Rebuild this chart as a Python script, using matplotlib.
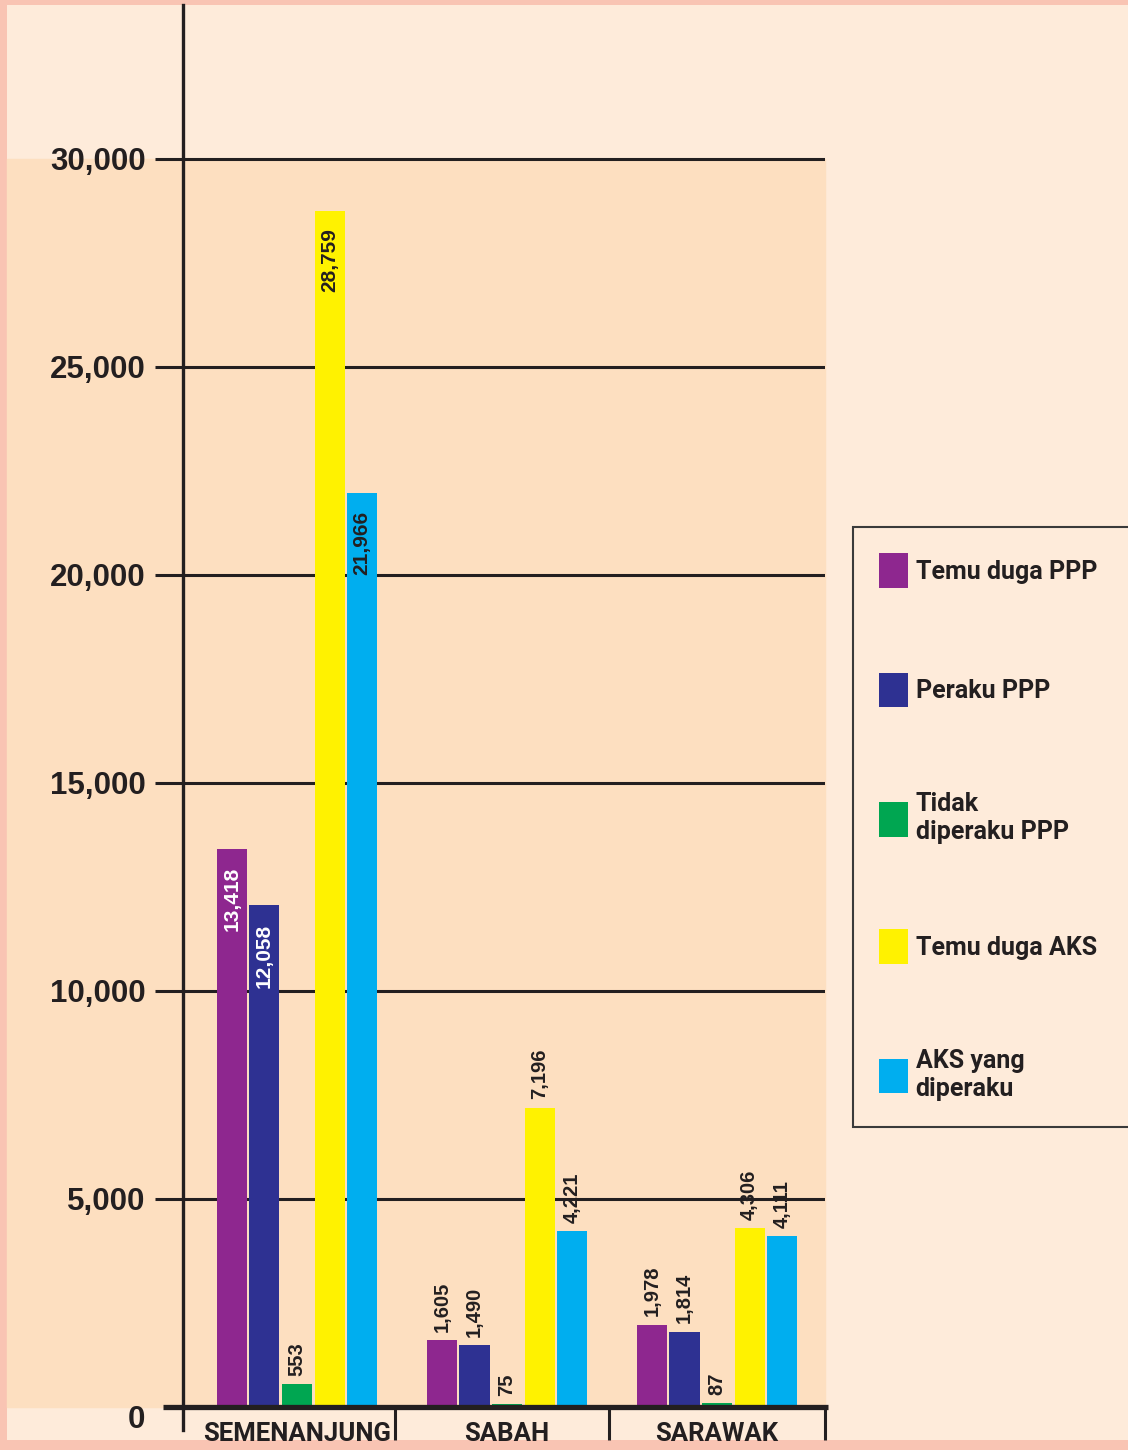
import numpy as np
import matplotlib.pyplot as plt
from matplotlib.patches import Rectangle
from matplotlib.transforms import ScaledTranslation

# data
regions = ['SEMENANJUNG', 'SABAH', 'SARAWAK']
series = ['Temu duga PPP', 'Peraku PPP', 'Tidak\ndiperaku PPP', 'Temu duga AKS', 'AKS yang\ndiperaku']
temu_duga_ppp = [13418, 1605, 1978]
peraku_ppp = [12058, 1490, 1814]
tidak_diperaku_ppp = [553, 75, 87]
temu_duga_aks = [28759, 7196, 4306]
aks_diperaku = [21966, 4221, 4111]
values = [temu_duga_ppp, peraku_ppp, tidak_diperaku_ppp, temu_duga_aks, aks_diperaku]
yticks = [0, 5000, 10000, 15000, 20000, 25000, 30000]

colors = ['#8E278F', '#2E3192', '#00A651', '#FFF200', '#00AEEF']
ink = '#231F20'
pink = '#F9C4B3'
cream = '#FEEBDA'
peach = '#FDDFC0'
narrow = ['Roboto', 'Liberation Sans', 'DejaVu Sans']
wide = ['Liberation Sans', 'DejaVu Sans']

W, H = 1128, 1450
fig = plt.figure(figsize=(W / 100, H / 100), dpi=100, facecolor=pink)
fig.patches.append(Rectangle((7 / W, 10 / H), 1, 1 - 15 / H, transform=fig.transFigure,
                             facecolor=cream, edgecolor='none', zorder=-10))

ax = fig.add_axes([183 / W, 43 / H, 642 / W, 1402 / H])
ax.patch.set_visible(False)
for s in ax.spines.values():
    s.set_visible(False)

x = np.arange(len(regions))
width = 0.143
step = 0.155

# peach plotting area behind the grid
ax.axhspan(0, 30000, xmin=-0.274, xmax=1.0, color=peach, zorder=0, clip_on=False)

bars = []
for i, vals in enumerate(values):
    b = ax.bar(x + (i - 2) * step, vals, width=width, color=colors[i], zorder=3)
    bars.append(b)

# value labels: big Semenanjung bars get the label inside, the rest above
for i, b in enumerate(bars):
    for j, rect in enumerate(b):
        v = values[i][j]
        cx = rect.get_x() + rect.get_width() / 2
        lab = f'{v:,}'
        if v > 10000:
            col = 'white' if i < 2 else ink
            ax.annotate(lab, (cx, v), xytext=(0, -13), textcoords='offset points',
                        rotation=90, ha='center', va='top', color=col,
                        fontsize=15, fontweight='bold', family=wide, zorder=5)
        else:
            ax.annotate(lab, (cx, v), xytext=(0, 6), textcoords='offset points',
                        rotation=90, ha='center', va='bottom', color=ink,
                        fontsize=14.5, fontweight='bold', family=wide, zorder=5)

ax.set_xlim(-0.543, 2.514)
ax.set_ylim(0, 33700)

# y axis
ax.set_yticks(yticks)
ax.set_yticklabels([f'{t:,}' for t in yticks], fontsize=22.5, fontweight='bold',
                   family=wide, color=ink)
ax.tick_params(axis='y', direction='out', length=20, width=2.2, color=ink, pad=7)
ax.yaxis.grid(True, color=ink, linewidth=2.2)
ax.set_axisbelow(True)
ax.yaxis.get_major_ticks()[0].tick1line.set_visible(False)
ax.yaxis.get_major_ticks()[0].gridline.set_visible(False)
zero_lab = ax.get_yticklabels()[0]
zero_lab.set_transform(zero_lab.get_transform() + ScaledTranslation(0, -10 / 100, fig.dpi_scale_trans))

# x axis: category names with separators
ax.set_xticks(x)
ax.set_xticklabels(regions, fontsize=18.5, fontweight='bold', family=narrow, color=ink)
ax.tick_params(axis='x', length=0, pad=11)
ax.set_xticks([0.467, 1.486, 2.514], minor=True)
ax.tick_params(axis='x', which='minor', direction='out', length=24, width=2.2, color=ink)

# vertical axis line running past the baseline, and the heavy baseline
ax.plot([-0.543, -0.543], [-0.0165, 1], transform=ax.get_xaxis_transform(),
        color=ink, linewidth=2.4, clip_on=False, zorder=4)
ax.plot([-0.031, 1.005], [0, 0], transform=ax.transAxes, color=ink,
        linewidth=3.8, clip_on=False, zorder=4, solid_capstyle='butt')

leg = fig.legend(bars, series, loc='upper left',
                 bbox_to_anchor=(853 / W, 1 - 527 / H, 300 / W, 0), mode='expand',
                 bbox_transform=fig.transFigure, borderaxespad=0, frameon=True,
                 fancybox=False, framealpha=1, facecolor=cream, edgecolor='#3A3A3A',
                 prop={'family': narrow, 'weight': 'bold', 'size': 18},
                 handlelength=1.15, handleheight=1.75, handletextpad=0.3,
                 labelspacing=3.4, borderpad=1.05)
leg.get_frame().set_linewidth(1.5)
for t in leg.get_texts():
    t.set_color(ink)
    t.set_linespacing(1.2)

fig.savefig('out.png', dpi=100, facecolor=fig.get_facecolor())
